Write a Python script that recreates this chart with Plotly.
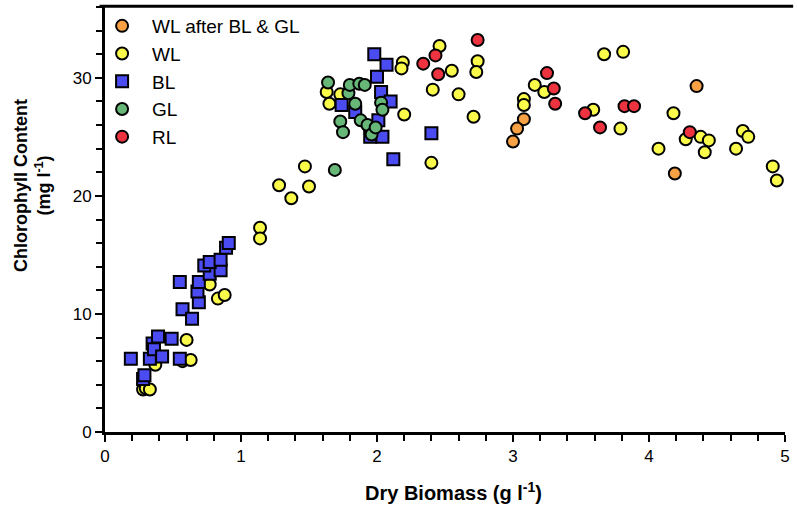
import plotly.graph_objects as go

# WL after BL & GL (orange)
orange_x = [3.08, 3.03, 3.00, 4.35, 4.19]
orange_y = [26.5, 25.7, 24.6, 29.3, 21.9]

# WL (yellow)
wl_x = [0.28, 0.30, 0.33, 0.37, 0.57, 0.63, 0.60, 0.77, 0.83, 0.88,
        1.14, 1.14, 1.28, 1.37, 1.47, 1.50,
        1.63, 1.65, 1.73, 2.19, 2.18, 2.20, 2.40, 2.41, 2.46,
        2.55, 2.60, 2.71, 2.74, 2.73,
        3.08, 3.08, 3.16, 3.23,
        3.59, 3.67, 3.79, 3.81,
        4.07, 4.18, 4.27, 4.38, 4.41, 4.44, 4.64, 4.69, 4.73, 4.91, 4.94]
wl_y = [3.6, 3.7, 3.6, 5.7, 6.0, 6.1, 7.8, 12.5, 11.3, 11.6,
        17.3, 16.4, 20.9, 19.8, 22.5, 20.8,
        28.8, 27.8, 28.6, 31.3, 30.8, 26.9, 22.8, 29.0, 32.7,
        30.6, 28.6, 26.7, 31.4, 30.5,
        28.2, 27.7, 29.4, 28.8,
        27.3, 32.0, 25.7, 32.2,
        24.0, 27.0, 24.8, 25.0, 23.7, 24.7, 24.0, 25.5, 25.0, 22.5, 21.3]

# BL (blue squares)
bl_x = [0.19, 0.28, 0.29, 0.33, 0.35, 0.36, 0.39, 0.42, 0.49, 0.55,
        0.57, 0.64, 0.69, 0.68, 0.69, 0.55, 0.77, 0.85, 0.73, 0.77,
        0.85, 0.89, 0.91,
        1.74, 1.84, 1.95, 1.98, 2.00, 2.01, 2.03, 2.04, 2.07, 2.10, 2.12, 2.40]
bl_y = [6.2, 4.5, 4.8, 6.2, 7.5, 7.0, 8.1, 6.4, 7.9, 6.2,
        10.4, 9.6, 11.0, 11.9, 12.7, 12.7, 13.4, 13.7, 14.1, 14.4,
        14.6, 15.6, 16.0,
        27.7, 27.1, 25.0, 32.0, 30.1, 26.4, 28.8, 25.0, 31.1, 28.0, 23.1, 25.3]

# GL (green)
gl_x = [1.64, 1.69, 1.73, 1.75, 1.79, 1.80, 1.84, 1.87, 1.88, 1.91,
        1.93, 1.96, 1.99, 2.03, 2.04]
gl_y = [29.6, 22.2, 26.3, 25.4, 28.7, 29.4, 27.8, 29.5, 26.4, 29.4,
        26.0, 25.2, 25.8, 27.9, 27.3]

# RL (red)
rl_x = [2.34, 2.43, 2.45, 2.74, 3.25, 3.30, 3.31, 3.53, 3.64, 3.82, 3.89, 4.30]
rl_y = [31.2, 31.9, 30.3, 33.2, 30.4, 29.1, 27.8, 27.0, 25.8, 27.6, 27.6, 25.4]

x_ticks = [0, 1, 2, 3, 4, 5]
y_ticks = [0, 10, 20, 30]

series = [
    ("WL after BL & GL", orange_x, orange_y, "#F7A044", "circle"),
    ("WL", wl_x, wl_y, "#FAFA4B", "circle"),
    ("BL", bl_x, bl_y, "#4B4BF2", "square"),
    ("GL", gl_x, gl_y, "#66B778", "circle"),
    ("RL", rl_x, rl_y, "#EE3340", "circle"),
]

fig = go.Figure()
for name, xs, ys, col, sym in series:
    fig.add_trace(go.Scatter(
        x=xs, y=ys, mode="markers", name=name, legendgroup=name,
        marker=dict(color=col, symbol=sym, size=12,
                    line=dict(color="black", width=2)),
    ))

font_family = "Liberation Sans, Arial, sans-serif"
fig.update_layout(
    width=797, height=506,
    margin=dict(l=105, r=8, t=7, b=74),
    plot_bgcolor="white", paper_bgcolor="white",
    font=dict(family=font_family, size=16, color="black"),
    showlegend=True,
    legend=dict(x=-0.019, y=1.0, xanchor="left", yanchor="top",
                font=dict(size=19), traceorder="grouped",
                tracegroupgap=0, bgcolor="rgba(0,0,0,0)", itemwidth=50),
    xaxis=dict(range=[0, 5], tickvals=x_ticks,
               showline=True, linecolor="black", linewidth=3,
               ticks="outside", ticklen=7, tickwidth=2, tickcolor="black",
               minor=dict(dtick=0.2, ticks="outside", ticklen=6,
                          tickwidth=2, tickcolor="black", showgrid=False),
               showgrid=False, zeroline=False,
               tickfont=dict(size=17)),
    yaxis=dict(range=[0, 36], tickvals=y_ticks,
               showline=True, linecolor="black", linewidth=3,
               ticks="outside", ticklen=7, tickwidth=2, tickcolor="black",
               minor=dict(dtick=2, ticks="outside", ticklen=6,
                          tickwidth=2, tickcolor="black", showgrid=False),
               showgrid=False, zeroline=False,
               tickfont=dict(size=17)),
    shapes=[dict(type="line", xref="paper", yref="paper",
                 x0=-0.008, x1=1.012, y0=1.002, y1=1.002,
                 line=dict(color="black", width=3))],
    annotations=[
        dict(text="<b>Dry Biomass (g l<sup>-1</sup>)</b>", xref="paper", yref="paper",
             x=0.513, y=-0.139, xanchor="center", yanchor="middle",
             showarrow=False, font=dict(size=20)),
        dict(text="<b>Chlorophyll Content<br>(mg l<sup>-1</sup>)</b>",
             xref="paper", yref="paper", x=-0.1075, y=0.581,
             xanchor="center", yanchor="middle", textangle=-90,
             showarrow=False, font=dict(size=18)),
    ],
)

fig.write_html("out.html")
